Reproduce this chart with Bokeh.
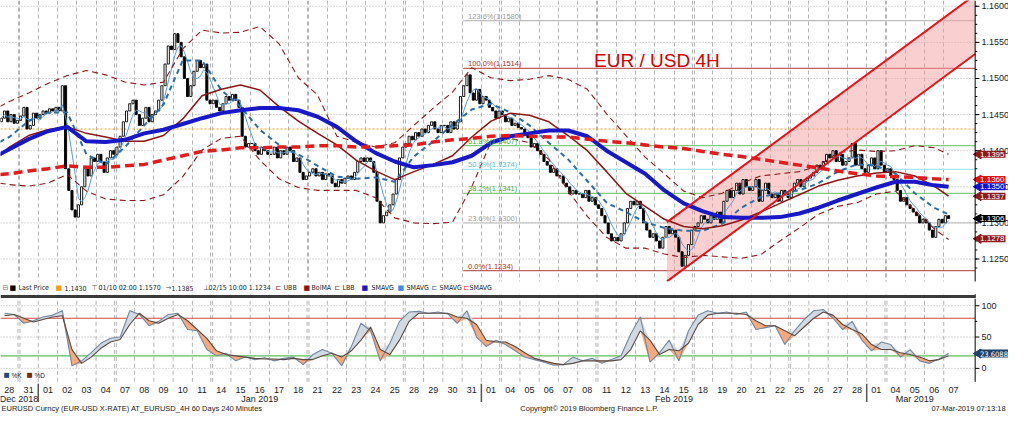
import numpy as np
import pandas as pd
from bokeh.plotting import figure
from bokeh.layouts import column
from bokeh.models import (ColumnDataSource, FixedTicker, Range1d, Span, Label,
                          BoxAnnotation, Grid)
from bokeh.core.properties import value
from bokeh.embed import file_html
from bokeh.resources import INLINE

# ---------------- data ----------------
dates = pd.bdate_range("2018-12-28", "2019-03-07")
day_labels = [d.strftime("%d") for d in dates]
month_names = ["Dec 2018", "Jan 2019", "Feb 2019", "Mar 2019"]

first_open = 1.1440
close_by_day = [
    [1.1445, 1.1455, 1.1440, 1.1450, 1.1438, 1.1442],  # Dec 28
    [1.1448, 1.1460, 1.1430, 1.1435, 1.1452, 1.1445],  # Dec 31
    [1.1450, 1.1455, 1.1452, 1.1458, 1.1455, 1.1460],  # Jan 01
    [1.1455, 1.1490, 1.1375, 1.1345, 1.1318, 1.1308],  # Jan 02
    [1.1325, 1.1350, 1.1375, 1.1365, 1.1390, 1.1385],  # Jan 03
    [1.1395, 1.1385, 1.1370, 1.1390, 1.1400, 1.1395],  # Jan 04
    [1.1405, 1.1420, 1.1440, 1.1455, 1.1465, 1.1470],  # Jan 07
    [1.1450, 1.1435, 1.1445, 1.1460, 1.1440, 1.1450],  # Jan 08
    [1.1455, 1.1470, 1.1490, 1.1520, 1.1545, 1.1540],  # Jan 09
    [1.1562, 1.1550, 1.1530, 1.1500, 1.1475, 1.1490],  # Jan 10
    [1.1510, 1.1525, 1.1515, 1.1520, 1.1470, 1.1465],  # Jan 11
    [1.1470, 1.1460, 1.1455, 1.1465, 1.1475, 1.1470],  # Jan 14
    [1.1478, 1.1470, 1.1460, 1.1420, 1.1405, 1.1410],  # Jan 15
    [1.1410, 1.1400, 1.1395, 1.1405, 1.1400, 1.1395],  # Jan 16
    [1.1395, 1.1405, 1.1390, 1.1400, 1.1395, 1.1405],  # Jan 17
    [1.1400, 1.1385, 1.1390, 1.1370, 1.1360, 1.1365],  # Jan 18
    [1.1370, 1.1375, 1.1365, 1.1370, 1.1360, 1.1368],  # Jan 21
    [1.1365, 1.1355, 1.1350, 1.1360, 1.1355, 1.1362],  # Jan 22
    [1.1365, 1.1360, 1.1370, 1.1385, 1.1390, 1.1385],  # Jan 23
    [1.1390, 1.1385, 1.1370, 1.1330, 1.1300, 1.1310],  # Jan 24
    [1.1315, 1.1325, 1.1340, 1.1360, 1.1390, 1.1405],  # Jan 25
    [1.1410, 1.1420, 1.1415, 1.1425, 1.1420, 1.1430],  # Jan 28
    [1.1425, 1.1435, 1.1440, 1.1430, 1.1425, 1.1435],  # Jan 29
    [1.1435, 1.1425, 1.1440, 1.1430, 1.1440, 1.1475],  # Jan 30
    [1.1490, 1.1505, 1.1480, 1.1470, 1.1485, 1.1465],  # Jan 31
    [1.1475, 1.1470, 1.1460, 1.1455, 1.1445, 1.1455],  # Feb 01
    [1.1450, 1.1440, 1.1445, 1.1435, 1.1438, 1.1432],  # Feb 04
    [1.1430, 1.1425, 1.1418, 1.1405, 1.1410, 1.1400],  # Feb 05
    [1.1395, 1.1385, 1.1380, 1.1370, 1.1375, 1.1365],  # Feb 06
    [1.1365, 1.1355, 1.1350, 1.1340, 1.1345, 1.1340],  # Feb 07
    [1.1340, 1.1335, 1.1345, 1.1330, 1.1335, 1.1325],  # Feb 08
    [1.1320, 1.1310, 1.1300, 1.1285, 1.1275, 1.1280],  # Feb 11
    [1.1275, 1.1285, 1.1300, 1.1320, 1.1330, 1.1325],  # Feb 12
    [1.1330, 1.1320, 1.1300, 1.1290, 1.1280, 1.1285],  # Feb 13
    [1.1275, 1.1265, 1.1280, 1.1295, 1.1285, 1.1290],  # Feb 14
    [1.1280, 1.1260, 1.1240, 1.1255, 1.1270, 1.1290],  # Feb 15
    [1.1295, 1.1300, 1.1310, 1.1305, 1.1300, 1.1310],  # Feb 18
    [1.1305, 1.1315, 1.1300, 1.1330, 1.1345, 1.1335],  # Feb 19
    [1.1345, 1.1355, 1.1340, 1.1360, 1.1350, 1.1345],  # Feb 20
    [1.1350, 1.1360, 1.1330, 1.1345, 1.1355, 1.1340],  # Feb 21
    [1.1335, 1.1340, 1.1330, 1.1345, 1.1340, 1.1335],  # Feb 22
    [1.1345, 1.1355, 1.1360, 1.1350, 1.1358, 1.1362],  # Feb 25
    [1.1365, 1.1370, 1.1380, 1.1375, 1.1385, 1.1395],  # Feb 26
    [1.1390, 1.1400, 1.1385, 1.1395, 1.1380, 1.1385],  # Feb 27
    [1.1390, 1.1410, 1.1380, 1.1395, 1.1375, 1.1370],  # Feb 28
    [1.1380, 1.1390, 1.1375, 1.1400, 1.1380, 1.1370],  # Mar 01
    [1.1375, 1.1365, 1.1360, 1.1345, 1.1330, 1.1335],  # Mar 04
    [1.1325, 1.1320, 1.1315, 1.1310, 1.1300, 1.1305],  # Mar 05
    [1.1300, 1.1290, 1.1280, 1.1295, 1.1305, 1.1300],  # Mar 06
    [1.1310, 1.1306],                                  # Mar 07
]

# indicator readings (one per trading day)
ind_days = [-0.5] + list(range(49)) + [48.75]
sma_slow = [1.1395, 1.1402, 1.1416, 1.1427, 1.1433, 1.1413, 1.1412, 1.1415, 1.1424, 1.1429,
            1.1437, 1.1445, 1.1452, 1.1456, 1.1459, 1.1459, 1.1456, 1.1447, 1.1433, 1.1413,
            1.1397, 1.1385, 1.1377, 1.1380, 1.1384, 1.1393, 1.1411, 1.1420, 1.1424, 1.1428,
            1.1428, 1.1420, 1.1400, 1.1384, 1.1368, 1.1345, 1.1327, 1.1316, 1.1308, 1.1307,
            1.1307, 1.1308, 1.1313, 1.1321, 1.1331, 1.1340, 1.1349, 1.1357, 1.1357, 1.1352, 1.1350]
sma_200 = [1.1367, 1.1368, 1.1372, 1.1375, 1.1379, 1.1377, 1.1377, 1.1379, 1.1381, 1.1387,
           1.1393, 1.1399, 1.1401, 1.1404, 1.1404, 1.1405, 1.1405, 1.1407, 1.1407, 1.1405,
           1.1405, 1.1407, 1.1408, 1.1412, 1.1415, 1.1417, 1.1420, 1.1421, 1.1420, 1.1419,
           1.1419, 1.1416, 1.1413, 1.1411, 1.1408, 1.1405, 1.1403, 1.1399, 1.1395, 1.1392,
           1.1388, 1.1384, 1.1380, 1.1376, 1.1372, 1.1368, 1.1365, 1.1364, 1.1363, 1.1361, 1.1360]
bol_ma = [1.1393, 1.1405, 1.1421, 1.1429, 1.1433, 1.1424, 1.1419, 1.1413, 1.1413, 1.1421,
          1.1444, 1.1476, 1.1485, 1.1491, 1.1484, 1.1461, 1.1441, 1.1424, 1.1408, 1.1387,
          1.1372, 1.1360, 1.1371, 1.1381, 1.1393, 1.1419, 1.1441, 1.1452, 1.1449, 1.1440,
          1.1421, 1.1400, 1.1371, 1.1341, 1.1323, 1.1305, 1.1295, 1.1292, 1.1296, 1.1304,
          1.1315, 1.1327, 1.1339, 1.1351, 1.1359, 1.1365, 1.1369, 1.1371, 1.1365, 1.1351, 1.1337]
ubb = [1.1461, 1.1468, 1.1480, 1.1493, 1.1504, 1.1511, 1.1505, 1.1495, 1.1491, 1.1495,
       1.1541, 1.1567, 1.1563, 1.1564, 1.1572, 1.1548, 1.1501, 1.1477, 1.1420, 1.1412,
       1.1405, 1.1411, 1.1435, 1.1459, 1.1481, 1.1515, 1.1501, 1.1497, 1.1499, 1.1504,
       1.1499, 1.1485, 1.1451, 1.1421, 1.1391, 1.1368, 1.1344, 1.1335, 1.1341, 1.1355,
       1.1365, 1.1368, 1.1371, 1.1379, 1.1397, 1.1401, 1.1399, 1.1400, 1.1407, 1.1404, 1.1395]
lbb = [1.1355, 1.1353, 1.1351, 1.1355, 1.1367, 1.1344, 1.1333, 1.1331, 1.1331, 1.1339,
       1.1364, 1.1401, 1.1417, 1.1420, 1.1387, 1.1361, 1.1349, 1.1345, 1.1345, 1.1345,
       1.1335, 1.1307, 1.1300, 1.1299, 1.1301, 1.1350, 1.1412, 1.1417, 1.1411, 1.1388,
       1.1344, 1.1309, 1.1280, 1.1265, 1.1265, 1.1257, 1.1252, 1.1255, 1.1253, 1.1251,
       1.1256, 1.1275, 1.1293, 1.1312, 1.1323, 1.1328, 1.1340, 1.1344, 1.1317, 1.1292, 1.1277]
sma_mid = [1.1412, 1.1419, 1.1441, 1.1453, 1.1453, 1.1395, 1.1381, 1.1405, 1.1435, 1.1464,
           1.1525, 1.1525, 1.1484, 1.1461, 1.1429, 1.1408, 1.1395, 1.1379, 1.1364, 1.1361,
           1.1363, 1.1357, 1.1392, 1.1413, 1.1436, 1.1457, 1.1465, 1.1453, 1.1435, 1.1411,
           1.1388, 1.1358, 1.1328, 1.1315, 1.1301, 1.1293, 1.1289, 1.1289, 1.1299, 1.1321,
           1.1336, 1.1341, 1.1345, 1.1355, 1.1371, 1.1381, 1.1379, 1.1368, 1.1341, 1.1321, 1.1312]

fib_names = ["123.6%", "100.0%", "61.8%", "50.0%", "38.2%", "23.6%", "0.0%"]
fib_values = [1.1580, 1.1514, 1.1407, 1.1374, 1.1341, 1.1300, 1.1234]
fib_start_day = 23.56
ref_level = 1.1430

channel_days = [34.13, 50.13]
channel_upper = [1.1301, 1.1616]
channel_lower = [1.1219, 1.1534]

stoch_days = [i * 0.5 - 0.25 for i in range(99)]
stoch_k = [88, 86, 72, 76, 82, 85, 92, 4, 12, 25, 40, 48, 50, 92, 86, 68, 75, 86, 88, 62,
           60, 30, 20, 24, 12, 18, 14, 17, 12, 16, 18, 6, 22, 30, 24, 4, 35, 72, 60, 12,
           40, 75, 90, 91, 88, 90, 87, 72, 92, 50, 35, 45, 38, 28, 18, 14, 10, 5, 6, 18,
           12, 16, 8, 14, 20, 55, 82, 10, 25, 45, 12, 60, 85, 92, 88, 90, 86, 90, 62, 65,
           68, 38, 60, 78, 92, 94, 80, 62, 75, 45, 28, 42, 38, 18, 30, 12, 8, 15, 23.6088]
stoch_d = [84, 86, 80, 74, 78, 82, 84, 30, 8, 18, 32, 42, 46, 70, 88, 76, 72, 80, 86, 76,
           62, 48, 28, 22, 20, 18, 16, 15, 15, 14, 16, 14, 14, 20, 24, 18, 28, 45, 66, 30,
           22, 45, 75, 88, 88, 88, 88, 82, 80, 70, 45, 42, 42, 35, 25, 16, 12, 8, 6, 8,
           12, 12, 12, 12, 14, 30, 60, 45, 22, 30, 28, 40, 70, 85, 88, 88, 88, 86, 76, 68,
           68, 60, 52, 66, 80, 90, 85, 70, 62, 55, 38, 30, 30, 25, 22, 18, 12, 14, 20]

price_ticks = [1.1250, 1.1300, 1.1350, 1.1400, 1.1450, 1.1500, 1.1550, 1.1600]
price_tick_labels = ["1.1250", "1.1300", "1.1350", "1.1400", "1.1450", "1.1500", "1.1550", "1.1600"]
price_tags = [(1.1395, "#8b1a1a"), (1.1360, "#e01010"), (1.1350, "#1010d8"),
              (1.1337, "#8b1a1a"), (1.1306, "#000000"), (1.1278, "#8b1a1a")]
stoch_ticks = [0, 50, 100]
stoch_tick_labels = ["0", "50", "100"]

# ---------------- geometry / layout constants ----------------
X0, X1 = -0.46, 51.86          # visible day range (full canvas width)
AXIS = 50.13                   # day position of the right value axis
P0, P1 = 1.11953, 1.1608       # price range of the upper canvas
S0, S1 = -80.0, 111.5          # stochastic range of the lower canvas
S_BOT = -21.5                  # bottom of the stochastic panel
W = 1008
FONT = "Liberation Sans"
NARROW = "Liberation Sans Narrow, DejaVu Sans Condensed, Liberation Sans"
GRID_COL = "#b4b4b4"
TXT = "#222222"

bar_x, bar_close = [], []
for d, closes in enumerate(close_by_day):
    for h, c in enumerate(closes):
        bar_x.append(d + (h - 2.5) / 6.0)
        bar_close.append(c)
bar_open = [first_open] + bar_close[:-1]
o = np.array(bar_open); c = np.array(bar_close)
candles = ColumnDataSource(dict(x=bar_x, top=np.maximum(o, c), bottom=np.minimum(o, c),
                                fill=["white" if ci >= oi else "black" for oi, ci in zip(o, c)]))
sma_fast = pd.Series(bar_close).rolling(5, min_periods=1).mean().values

n_days = len(dates)
grid_x = []
for i in range(1, n_days):
    if dates[i].weekday() == 0:
        grid_x += [i - 0.55, i - 0.45]
    else:
        grid_x.append(i - 0.5)
months = [d.strftime("%b %Y") for d in dates]
month_bounds = [i - 0.5 for i in range(1, n_days) if months[i] != months[i - 1]]
month_centers = []
for m in month_names:
    idx = [i for i in range(n_days) if months[i] == m]
    month_centers.append(float(np.mean(idx)))
price_minor = list(np.arange(1.12375, 1.1608, 0.00125))


def base_fig(height, y0, y1):
    f = figure(width=W, height=height, x_range=Range1d(X0, X1), y_range=Range1d(y0, y1),
               output_backend="svg", toolbar_location=None, x_axis_location=None,
               y_axis_location=None, min_border_left=0, min_border_right=0,
               min_border_top=0, min_border_bottom=0)
    f.outline_line_color = None
    f.xgrid.visible = False
    f.ygrid.visible = False
    return f


# ---------------- price panel ----------------
p = base_fig(298, P0, P1)
p.add_layout(Grid(dimension=0, ticker=FixedTicker(ticks=grid_x), grid_line_color=GRID_COL,
                  grid_line_dash="4 3"))
p.segment(x0=[X0] * len(price_ticks), y0=price_ticks, x1=[AXIS] * len(price_ticks),
          y1=price_ticks, line_color=GRID_COL, line_dash="1 2", line_width=1)

fib_line_colors = ["#bdbdbd", "#c06060", "#7fcc7f", "#a6e8ee", "#7fcc7f", "#c4c4c4", "#c06060"]
fib_text_colors = ["#a0a0a0", "#b03030", "#44aa44", "#5cc4d4", "#44aa44", "#a0a0a0", "#b03030"]
p.segment(x0=[fib_start_day] * 7, y0=fib_values, x1=[AXIS] * 7, y1=fib_values,
          line_color=fib_line_colors, line_width=1.2)
p.segment(x0=[X0], y0=[ref_level], x1=[AXIS], y1=[ref_level], line_color="#f0a020",
          line_dash="2 2", line_width=1)

p.patch(x=[channel_days[0], channel_days[1], channel_days[1], channel_days[0]],
        y=[channel_upper[0], channel_upper[1], channel_lower[1], channel_lower[0]],
        fill_color="#f4a0a0", fill_alpha=0.5, line_color=None)

p.vbar(x="x", width=0.11, top="top", bottom="bottom", fill_color="fill",
       line_color="black", line_width=0.9, source=candles)

p.line(bar_x, sma_fast, line_color="#5b9bd5", line_width=1)
p.line(ind_days, sma_mid, line_color="#2e6da4", line_width=2, line_dash="5 4")
p.line(ind_days, bol_ma, line_color="#8b1515", line_width=1.5)
p.line(ind_days, ubb, line_color="#8b1a1a", line_width=1.1, line_dash="6 4")
p.line(ind_days, lbb, line_color="#8b1a1a", line_width=1.1, line_dash="6 4")
p.line(ind_days, sma_slow, line_color="#1818c8", line_width=4)
p.line(ind_days, sma_200, line_color="#e41a1c", line_width=3.5, line_dash="9 5")

p.line(channel_days, channel_upper, line_color="#e8141c", line_width=2)
p.line(channel_days, channel_lower, line_color="#e8141c", line_width=2)

for name, val, col in zip(fib_names, fib_values, fib_text_colors):
    p.add_layout(Label(x=fib_start_day + 0.25, y=val, text=f"{name}({val:.4f})",
                       text_font=FONT, text_font_size="7.5px", text_color=col,
                       text_baseline="bottom"))

p.add_layout(Label(x=30.35, y=1.1525, text="EUR / USD 4H", text_font=FONT,
                   text_font_size="19px", text_color="#d00000", text_baseline="alphabetic"))

# right value axis (price)
p.add_layout(Span(location=AXIS, dimension="height", line_color="black", line_width=1))
p.segment(x0=[AXIS] * len(price_ticks), y0=price_ticks, x1=[AXIS + 0.22] * len(price_ticks),
          y1=price_ticks, line_color="black", line_width=1)
p.segment(x0=[AXIS] * len(price_minor), y0=price_minor, x1=[AXIS + 0.11] * len(price_minor),
          y1=price_minor, line_color="black", line_width=1)
p.text(x=[AXIS + 0.33] * len(price_ticks), y=price_ticks, text=price_tick_labels,
       text_font=value(FONT), text_font_size="9px", text_color=TXT, text_baseline="middle")

# legend row + separator
p.add_layout(BoxAnnotation(bottom=1.12013, top=1.12187, fill_color="white", fill_alpha=1.0,
                           line_color=None))
p.add_layout(BoxAnnotation(bottom=P0, top=1.12003, right=AXIS, fill_color="#3a3a3a",
                           fill_alpha=1.0, line_color=None))
legend_row = [
    (2, "⊟", "#777777", "DejaVu Sans"), (9, "■", "#000000", "DejaVu Sans"),
    (18, "Last Price", TXT, NARROW),
    (55, "■", "#f0a020", "DejaVu Sans"), (64, "1.1430", TXT, NARROW),
    (91, "⊤", "#555555", "DejaVu Sans"), (98, "01/10 02:00 1.1570", TXT, NARROW),
    (165, "→", "#555555", "DejaVu Sans"), (171, "1.1385", TXT, NARROW),
    (203, "⊥", "#555555", "DejaVu Sans"), (208, "02/15 10:00 1.1234", TXT, NARROW),
    (275, "⊏", "#8b1a1a", "DejaVu Sans"), (283, "UBB", TXT, NARROW),
    (303, "■", "#8b1515", "DejaVu Sans"), (311, "BolMA", TXT, NARROW),
    (334, "⊏", "#8b1a1a", "DejaVu Sans"), (342, "LBB", TXT, NARROW),
    (361, "■", "#1818c8", "DejaVu Sans"), (371, "SMAVG", TXT, NARROW),
    (397, "■", "#3b8fe0", "DejaVu Sans"), (406, "SMAVG", TXT, NARROW),
    (431, "⊏", "#2e6da4", "DejaVu Sans"), (439, "SMAVG", TXT, NARROW),
    (463, "⊏", "#e41a1c", "DejaVu Sans"), (469, "SMAVG", TXT, NARROW),
]
for lx, txt, col, fnt in legend_row:
    p.add_layout(Label(x=lx, y=1.12105, x_units="screen", text=txt, text_font=fnt,
                       text_font_size="7px", text_color=col, text_baseline="middle"))

# value tags
for val, col in price_tags:
    p.scatter(x=[AXIS + 0.17], y=[val], marker="triangle", angle=np.pi / 2, size=9,
              fill_color=col, line_color=col)
    p.add_layout(Label(x=AXIS + 0.2, y=val, text=f"{val:.4f}", text_font=FONT,
                       text_font_size="8px", text_color="white", background_fill_color=col,
                       background_fill_alpha=1.0, text_baseline="middle", padding=1))

# ---------------- stochastic panel ----------------
q = base_fig(120, S0, S1)
q.segment(x0=grid_x, y0=[S_BOT] * len(grid_x), x1=grid_x, y1=[S1] * len(grid_x),
          line_color=GRID_COL, line_dash="4 3", line_width=1)
q.segment(x0=[X0] * 3, y0=stoch_ticks, x1=[AXIS] * 3, y1=stoch_ticks,
          line_color=GRID_COL, line_dash="1 2", line_width=1)
q.segment(x0=[X0, X0], y0=[80, 20], x1=[AXIS, AXIS], y1=[80, 20],
          line_color=["#d04848", "#5cbf5c"], line_width=1.2)

k = np.array(stoch_k, dtype=float); dd = np.array(stoch_d, dtype=float)
q.varea(x=stoch_days, y1=dd, y2=np.maximum(k, dd), fill_color="#d3d9e0", fill_alpha=1.0)
q.varea(x=stoch_days, y1=np.minimum(k, dd), y2=dd, fill_color="#f5a97e", fill_alpha=1.0)
q.line(stoch_days, stoch_k, line_color="#7288a2", line_width=1.1)
q.line(stoch_days, stoch_d, line_color="#5a4a42", line_width=1.1)

# stochastic value axis
q.segment(x0=[AXIS], y0=[S_BOT], x1=[AXIS], y1=[S1], line_color="black", line_width=1)
q.segment(x0=[AXIS] * 3, y0=stoch_ticks, x1=[AXIS + 0.22] * 3, y1=stoch_ticks,
          line_color="black", line_width=1)
q.segment(x0=[AXIS] * 2, y0=[25, 75], x1=[AXIS + 0.11] * 2, y1=[25, 75],
          line_color="black", line_width=1)
q.text(x=[AXIS + 0.33] * 3, y=stoch_ticks, text=stoch_tick_labels, text_font=value(FONT),
       text_font_size="9px", text_color=TXT, text_baseline="middle")

for lx, txt, col, fnt in [(3, "■", "#1f4e79", "DejaVu Sans"), (11, "%K", TXT, FONT),
                          (26, "■", "#7a2a10", "DejaVu Sans"), (34, "%D", TXT, FONT)]:
    q.add_layout(Label(x=lx, y=-11, x_units="screen", text=txt, text_font=fnt,
                       text_font_size="6.5px", text_color=col, text_baseline="middle"))

q.scatter(x=[AXIS + 0.17], y=[stoch_k[-1]], marker="triangle", angle=np.pi / 2, size=9,
          fill_color="#1f4068", line_color="#1f4068")
q.add_layout(Label(x=AXIS + 0.2, y=stoch_k[-1], text=f"{stoch_k[-1]:.4f}",
                   text_font=NARROW, text_font_size="7.5px", text_color="white",
                   background_fill_color="#1f4068", background_fill_alpha=1.0,
                   text_baseline="middle", padding=1))

# time axis (day numbers, months, month separators)
q.text(x=list(range(n_days)), y=[-33.8] * n_days, text=day_labels, text_font=value(FONT),
       text_font_size="9px", text_color=TXT, text_align="center", text_baseline="middle")
q.text(x=month_centers, y=[-49.2] * len(month_centers), text=month_names,
       text_font=value(FONT), text_font_size="9px", text_color=TXT, text_align="center",
       text_baseline="middle")
q.segment(x0=month_bounds, y0=[-24.6] * len(month_bounds), x1=month_bounds,
          y1=[-53.8] * len(month_bounds), line_color="#555555", line_width=1.5)

# footer
footer_y = -64.8
q.text(x=[X0 + 0.05], y=[footer_y],
       text=["EURUSD Curncy (EUR-USD X-RATE) AT_EURUSD_4H 60 Days 240 Minutes"],
       text_font=value(FONT), text_font_size="7.5px", text_color=TXT, text_baseline="middle")
q.text(x=[26.52], y=[footer_y], text=["Copyright\u00a9 2019 Bloomberg Finance L.P."],
       text_font=value(FONT), text_font_size="7.5px", text_color=TXT, text_baseline="middle")
q.text(x=[51.71], y=[footer_y], text=["07-Mar-2019 07:13:18"], text_font=value(FONT),
       text_font_size="7.5px", text_color=TXT, text_baseline="middle", text_align="right")

layout = column(p, q, spacing=0)
open("out.html", "w").write(file_html(layout, INLINE))
